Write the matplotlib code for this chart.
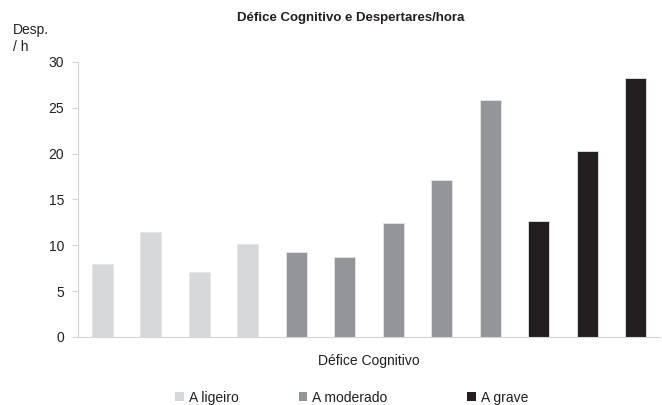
import matplotlib.pyplot as plt
from matplotlib.patches import Patch

plt.rcParams['font.family'] = ['Liberation Sans', 'DejaVu Sans']

groups = ["A ligeiro", "A moderado", "A grave"]
ligeiro = [8.0, 11.5, 7.1, 10.1]
moderado = [9.3, 8.7, 12.4, 17.1, 25.8]
grave = [12.7, 20.3, 28.3]
colors = ["#d7d8da", "#939598", "#231f20"]

fig = plt.figure(figsize=(6.62, 4.05), dpi=100)
ax = fig.add_axes([0.118, 0.168, 0.879, 0.679])

x = 0
for vals, c in zip([ligeiro, moderado, grave], colors):
    pos = list(range(x, x + len(vals)))
    ax.bar(pos, vals, width=0.43, color=c, edgecolor="#e6e6e6", linewidth=0.6)
    x += len(vals)

ax.set_xlim(-0.5, x - 0.5)
ax.set_ylim(0, 30)
ax.set_yticks([0, 5, 10, 15, 20, 25, 30])
ax.set_xticks([])
for s in ["top", "right"]:
    ax.spines[s].set_visible(False)
for s in ["left", "bottom"]:
    ax.spines[s].set_color("#d4d4d4")
    ax.spines[s].set_linewidth(0.8)
ax.tick_params(axis="y", length=4, color="#d4d4d4", labelsize=10, pad=6,
               labelcolor="#231f20")

ax.set_xlabel("Défice Cognitivo", fontsize=10, color="#231f20", labelpad=12)
fig.text(0.529, 0.955, "Défice Cognitivo e Despertares/hora", ha="center",
         va="center", fontsize=9.5, fontweight="bold", color="#231f20")
fig.text(0.02, 0.905, "Desp.\n/ h", ha="left", va="center", fontsize=10,
         color="#231f20", linespacing=1.3)

# one legend entry per group, spaced like the original layout
legend_x = [0.265, 0.451, 0.706]
for name, c, lx in zip(groups, colors, legend_x):
    lg = fig.legend([Patch(facecolor=c, edgecolor="none")], [name],
                    loc="center left", bbox_to_anchor=(lx, 0.018),
                    frameon=False, fontsize=10, handlelength=0.6,
                    handleheight=0.6, handletextpad=0.4, borderpad=0,
                    borderaxespad=0, labelcolor="#231f20")

fig.savefig("out.png", dpi=100)
